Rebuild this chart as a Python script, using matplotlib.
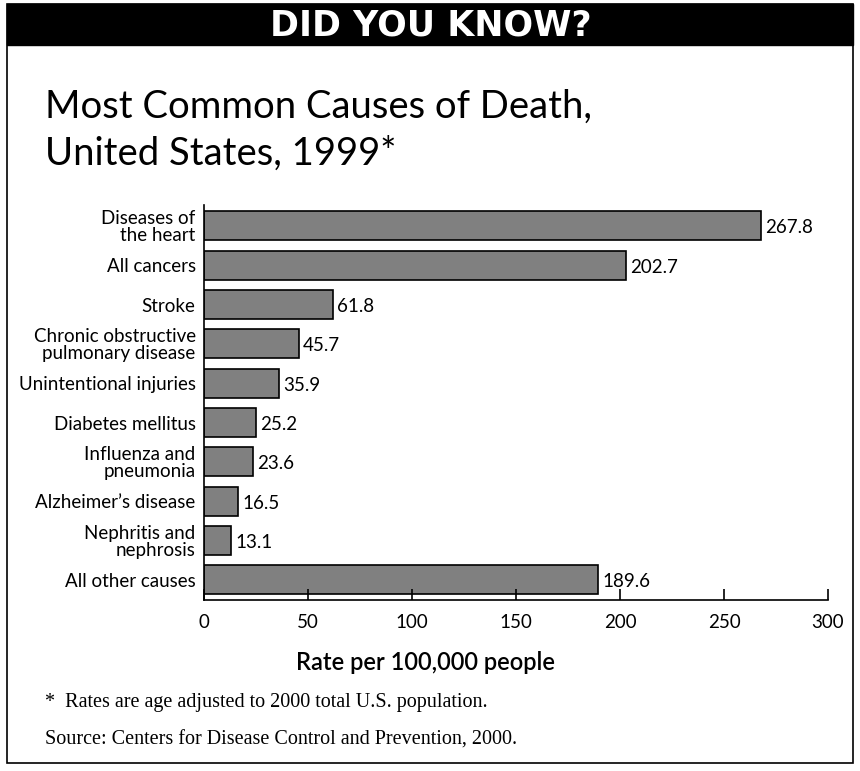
import matplotlib.pyplot as plt
from matplotlib.patches import Rectangle

causes = ["Diseases of\nthe heart", "All cancers", "Stroke",
          "Chronic obstructive\npulmonary disease", "Unintentional injuries",
          "Diabetes mellitus", "Influenza and\npneumonia", "Alzheimer\u2019s disease",
          "Nephritis and\nnephrosis", "All other causes"]
rates = [267.8, 202.7, 61.8, 45.7, 35.9, 25.2, 23.6, 16.5, 13.1, 189.6]
xticks = [0, 50, 100, 150, 200, 250, 300]

sans = "Lato"
serif = "Liberation Serif"

fig = plt.figure(figsize=(8.6, 7.71), dpi=100)
W, H = 860, 771

# outer border and black header
fig.add_artist(Rectangle((7 / W, 1 - 763 / H), 846 / W, 759 / H, transform=fig.transFigure,
                         fill=False, edgecolor="black", linewidth=1.2))
fig.add_artist(Rectangle((7 / W, 1 - 45 / H), 846 / W, 41 / H, transform=fig.transFigure,
                         facecolor="black", edgecolor="black"))
fig.text(431 / W, 1 - 25 / H, "DID YOU KNOW?", color="white", fontsize=25, fontweight="bold",
         family="DejaVu Sans", ha="center", va="center")

fig.text(45 / W, 1 - 118 / H, "Most Common Causes of Death,", fontsize=27.5, family=sans,
         ha="left", va="baseline")
fig.text(45 / W, 1 - 165 / H, "United States, 1999*", fontsize=27.5, family=sans,
         ha="left", va="baseline")

ax = fig.add_axes([204 / W, 1 - 600 / H, 624 / W, 395 / H])
y = list(range(len(causes)))
ax.barh(y, rates, height=0.74, color="#808080", edgecolor="black", linewidth=1.2)
for yi, v in zip(y, rates):
    ax.text(v + 2, yi + 0.05, f"{v}", va="center", ha="left", fontsize=13.5, family=sans)

ax.set_xlim(0, 300)
ax.set_ylim(9.51, -0.53)
ax.set_yticks(y)
ax.set_yticklabels(causes, fontsize=13.5, family=sans, linespacing=1.0)
ax.tick_params(axis="y", length=0, pad=6)
ax.set_xticks(xticks)
ax.set_xticklabels([str(t) for t in xticks], fontsize=13.5, family=sans)
ax.tick_params(axis="x", direction="in", length=8, width=1.2, pad=10)
ax.spines["top"].set_visible(False)
ax.spines["right"].set_visible(False)
ax.spines["left"].set_linewidth(1.2)
ax.spines["bottom"].set_linewidth(1.2)

fig.text(426 / W, 1 - 662 / H, "Rate per 100,000 people", fontsize=17, family=sans,
         fontweight="semibold", ha="center", va="center")

fig.text(45 / W, 1 - 703 / H, "*  Rates are age adjusted to 2000 total U.S. population.",
         fontsize=14.5, family=serif, ha="left", va="center")
fig.text(45 / W, 1 - 740 / H, "Source: Centers for Disease Control and Prevention, 2000.",
         fontsize=14.5, family=serif, ha="left", va="center")

fig.savefig("out.png", dpi=100)
